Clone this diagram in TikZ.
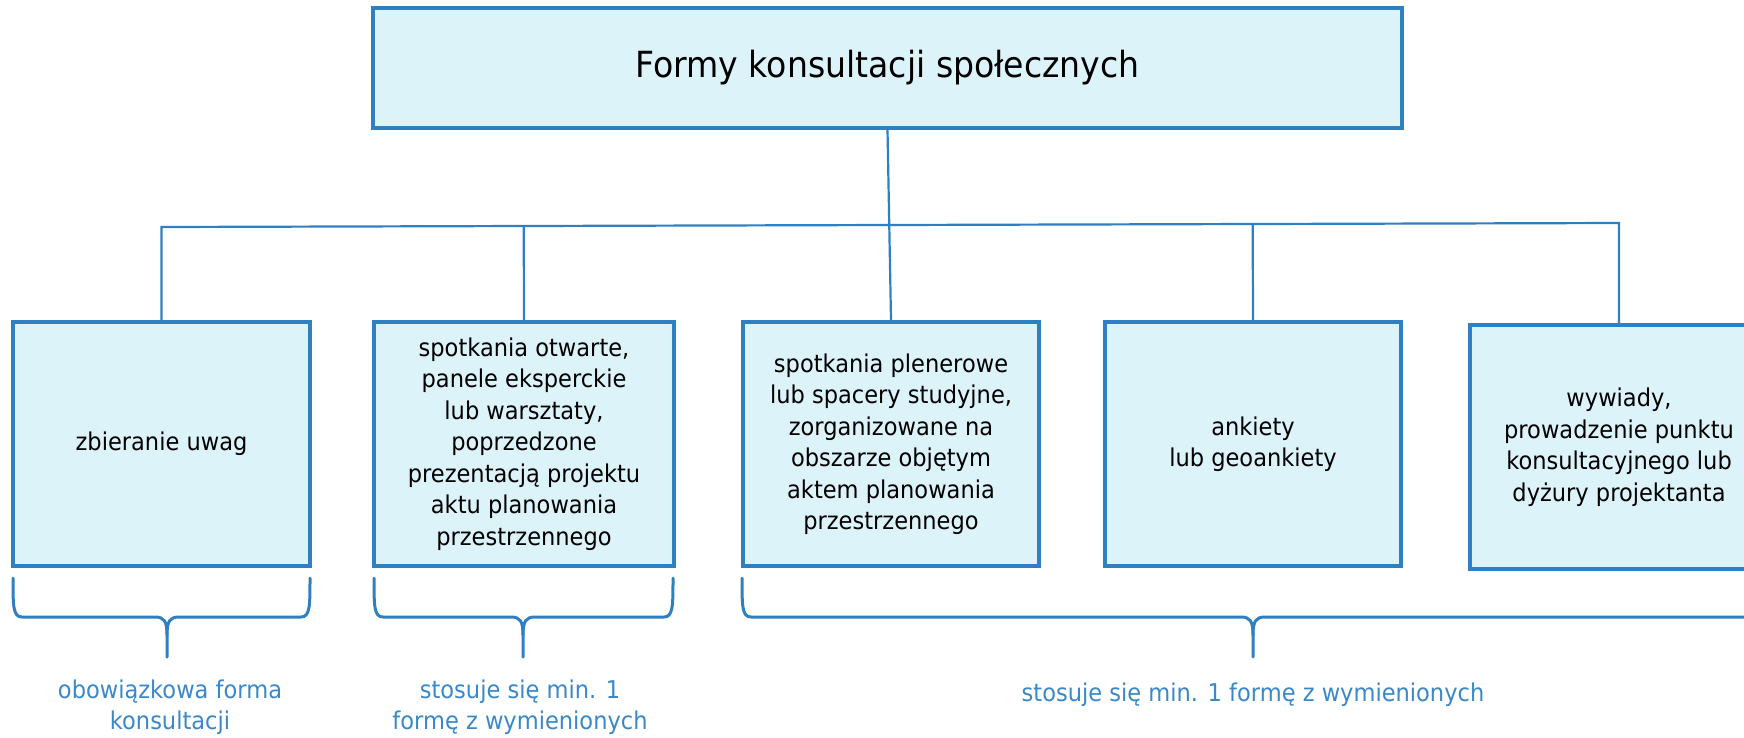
\documentclass[tikz,border=0pt]{standalone}
\usepackage{fontspec}
\setmainfont{DejaVu Sans}[FakeStretch=0.92]
\usetikzlibrary{calc}
\definecolor{boxfill}{HTML}{DDF3FA}
\definecolor{edgeblue}{HTML}{2F80C2}
\definecolor{labelblue}{HTML}{3A88C9}
\newcommand{\bodyfont}{\fontsize{24.5}{31.5}\selectfont}
\newcommand{\titlefont}{\fontsize{36}{43}\selectfont}
\newcommand{\drawbrace}[3]{%
  \draw[bracestyle] (#1,578) .. controls (#1,606) and (#1,617) .. (#1+9,617)
    -- (#3-12,617) .. controls (#3-3,617) and (#3,621) .. (#3,635) -- (#3,657);
  \draw[bracestyle] (#3,635) .. controls (#3,621) and (#3+3,617) .. (#3+12,617)
    -- (#2-9,617) .. controls (#2,617) and (#2,606) .. (#2,578);
}
\tikzset{
  box/.style={draw=edgeblue, fill=boxfill, line width=3.5pt, align=center,
    inner sep=0pt, font=\bodyfont, text=black},
  conn/.style={draw=edgeblue, line width=2.2pt},
  bracestyle/.style={draw=edgeblue, line width=3pt, line cap=round},
  lbl/.style={text=labelblue, align=center, font=\bodyfont, inner sep=0pt}
}
\begin{document}
\begin{tikzpicture}[x=1pt, y=-1pt]
\useasboundingbox (0,0) rectangle (1744,737);
\clip (0,0) rectangle (1744,737);

\node[box, minimum width=1029pt, minimum height=120pt, font=\titlefont] (top) at (887.5,68) {Formy konsultacji społecznych};

\node[box, minimum width=297pt, minimum height=244pt] (b1) at (161.5,444) {zbieranie uwag};
\node[box, minimum width=300pt, minimum height=244pt] (b2) at (524,444) {spotkania otwarte,\\panele eksperckie\\lub warsztaty,\\poprzedzone\\prezentacją projektu\\aktu planowania\\przestrzennego};
\node[box, minimum width=296pt, minimum height=244pt] (b3) at (891,444) {spotkania plenerowe\\lub spacery studyjne,\\zorganizowane na\\obszarze objętym\\aktem planowania\\przestrzennego};
\node[box, minimum width=296pt, minimum height=244pt] (b4) at (1253,444) {ankiety\\lub geoankiety};
\node[box, minimum width=298pt, minimum height=244pt] (b5) at (1619,447) {wywiady,\\prowadzenie punktu\\konsultacyjnego lub\\dyżury projektanta};

\coordinate (barL) at (161.5,227);
\coordinate (barR) at (1619,223);
\draw[conn] (top.south) -- (b3.north);
\draw[conn] (b1.north) -- (barL) -- (barR) -- (b5.north);
\draw[conn] (b2.north) -- ($(barL)!(b2.north)!(barR)$);
\draw[conn] (b4.north) -- ($(barL)!(b4.north)!(barR)$);

\drawbrace{13}{310}{167}
\drawbrace{374}{673}{523}
\drawbrace{742}{1768}{1253}

\node[lbl] (l1) at (170,707) {obowiązkowa forma\\konsultacji};
\node[lbl] (l2) at (520,707) {stosuje się min. 1\\formę z wymienionych};
\node[lbl] (l3) at (1253,695) {stosuje się min. 1 formę z wymienionych};
\end{tikzpicture}
\end{document}
